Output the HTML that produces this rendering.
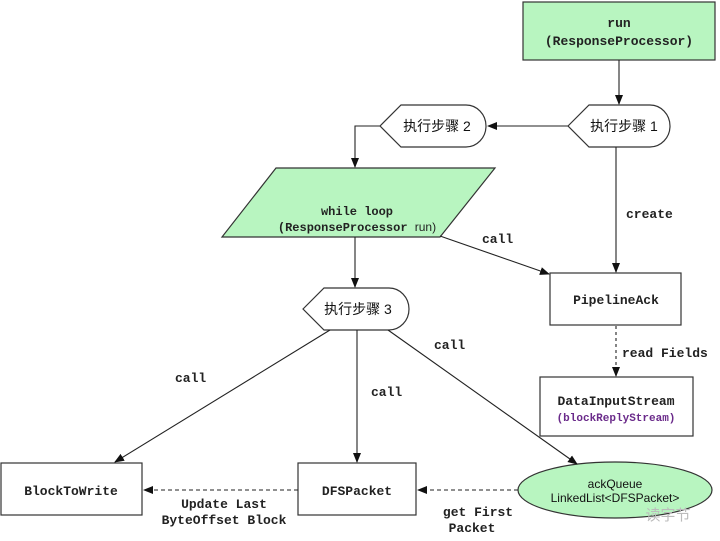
<!DOCTYPE html>
<html><head><meta charset="utf-8"><style>
html,body{margin:0;padding:0;background:#fff;}
svg{display:block;}
.m{font-family:"Liberation Mono",monospace;font-size:13px;font-weight:bold;fill:#222;}
.s{font-family:"Liberation Sans","Noto Sans CJK SC",sans-serif;font-size:14px;fill:#111;}
</style></head><body>
<svg width="720" height="541" viewBox="0 0 720 541" xmlns="http://www.w3.org/2000/svg">
<defs><marker id="a" markerWidth="10" markerHeight="10" refX="9" refY="4" orient="auto" markerUnits="userSpaceOnUse"><path d="M0,0 L10,4 L0,8 z" fill="#111"/></marker></defs>
<g stroke="#333" stroke-width="1.2" fill="none">
<rect x="523" y="2" width="192" height="58" fill="#b8f5c0"/>
<path d="M568,126 L589,105 L650,105 A20,21 0 0 1 650,147 L589,147 Z" fill="#fff"/>
<path d="M380,126 L401,105 L466,105 A20,21 0 0 1 466,147 L401,147 Z" fill="#fff"/>
<path d="M276,168 L495,168 L440,237 L222,237 Z" fill="#b8f5c0"/>
<path d="M303,309 L324,288 L389,288 A20,21 0 0 1 389,330 L324,330 Z" fill="#fff"/>
<rect x="550" y="273" width="131" height="52" fill="#fff"/>
<rect x="540" y="377" width="153" height="59" fill="#fff"/>
<rect x="1" y="463" width="141" height="52" fill="#fff"/>
<rect x="298" y="463" width="118" height="52" fill="#fff"/>
<ellipse cx="615" cy="490" rx="97" ry="28" fill="#b8f5c0"/>
</g>
<g stroke="#222" stroke-width="1.1" fill="none">
<line x1="619" y1="60" x2="619" y2="104" marker-end="url(#a)"/>
<line x1="568" y1="126" x2="488" y2="126" marker-end="url(#a)"/>
<polyline points="380,126 355,126 355,167" marker-end="url(#a)"/>
<line x1="355" y1="237" x2="355" y2="287" marker-end="url(#a)"/>
<line x1="616" y1="147" x2="616" y2="272" marker-end="url(#a)"/>
<line x1="440" y1="236" x2="549" y2="274" marker-end="url(#a)"/>
<line x1="616" y1="326" x2="616" y2="376" stroke-dasharray="3,3" marker-end="url(#a)"/>
<line x1="330" y1="330" x2="115" y2="462" marker-end="url(#a)"/>
<line x1="357" y1="330" x2="357" y2="462" marker-end="url(#a)"/>
<line x1="388" y1="330" x2="577" y2="464" marker-end="url(#a)"/>
<line x1="518" y1="490" x2="418" y2="490" stroke-dasharray="4,3" marker-end="url(#a)"/>
<line x1="298" y1="490" x2="144" y2="490" stroke-dasharray="4,3" marker-end="url(#a)"/>
</g>
<text class="m" x="619" y="27" text-anchor="middle">run</text>
<text class="m" x="619" y="45" text-anchor="middle">(ResponseProcessor)</text>
<text class="s" x="624" y="131" text-anchor="middle">执行步骤 1</text>
<text class="s" x="437" y="131" text-anchor="middle">执行步骤 2</text>
<text class="s" x="358" y="314" text-anchor="middle">执行步骤 3</text>
<text class="m" x="357" y="215" text-anchor="middle" style="font-size:12px">while loop</text>
<text class="m" x="357" y="231" text-anchor="middle" style="font-size:12px">(ResponseProcessor <tspan style="font-family:'Liberation Sans',sans-serif;font-weight:normal">run)</tspan></text>
<text class="m" x="626" y="218">create</text>
<text class="m" x="482" y="243">call</text>
<text class="m" x="616" y="304" text-anchor="middle">PipelineAck</text>
<text class="m" x="622" y="357">read Fields</text>
<text class="m" x="616" y="405" text-anchor="middle">DataInputStream</text>
<text class="m" x="616" y="421" text-anchor="middle" style="font-size:11px;fill:#6a2a8a">(blockReplyStream)</text>
<text class="m" x="175" y="382">call</text>
<text class="m" x="371" y="396">call</text>
<text class="m" x="434" y="349">call</text>
<text class="m" x="71" y="495" text-anchor="middle">BlockToWrite</text>
<text class="m" x="357" y="495" text-anchor="middle">DFSPacket</text>
<text class="s" x="615" y="488" text-anchor="middle" style="font-size:12px">ackQueue</text>
<text class="s" x="615" y="502" text-anchor="middle" style="font-size:12px">LinkedList&lt;DFSPacket&gt;</text>
<text class="m" x="224" y="508" text-anchor="middle">Update Last</text>
<text class="m" x="224" y="524" text-anchor="middle">ByteOffset Block</text>
<text class="m" x="478" y="516" text-anchor="middle">get First</text>
<text class="m" x="472" y="532" text-anchor="middle">Packet</text>
<text class="s" x="668" y="520" text-anchor="middle" style="fill:#bbb;font-size:15px">读字节</text>
</svg>
</body></html>
